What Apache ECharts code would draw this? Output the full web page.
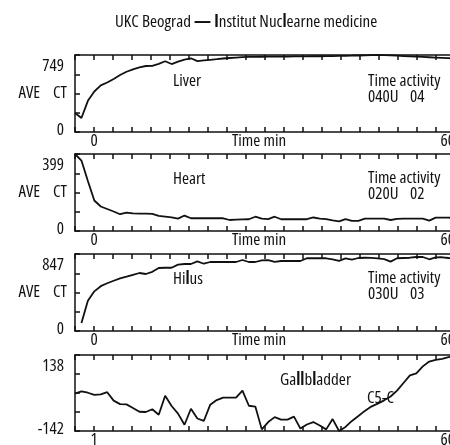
<!DOCTYPE html>
<html>
<head>
<meta charset="utf-8">
<script src="https://cdn.jsdelivr.net/npm/echarts@6/dist/echarts.min.js"></script>
<style>
  html, body { margin: 0; padding: 0; background: #fff; }
  #container { width: 450px; height: 445px; }
</style>
</head>
<body>
<div id="container"></div>
<script>
var dom = document.getElementById("container");
var myChart = echarts.init(dom, null, { renderer: "canvas" });

// condensed grotesque look: Open Sans with font-stretch condensed
var FONT = "'Open Sans', 'DejaVu Sans Condensed', sans-serif";
var W_NORMAL = "500 condensed";
var W_BOLD = "bold condensed";
var FS = 17;
var INK = "#111";

// frame numbers (one point per frame)
var frames = [1, 2, 3, 4, 5, 6, 7, 8, 9, 10, 11, 12, 13, 14, 15, 16, 17, 18, 19, 20,
  21, 22, 23, 24, 25, 26, 27, 28, 29, 30, 31, 32, 33, 34, 35, 36, 37, 38, 39, 40,
  41, 42, 43, 44, 45, 46, 47, 48, 49, 50, 51, 52, 53, 54, 55, 56, 57, 58, 59, 60];

// counts
var liver = [185, 136, 303, 394, 453, 481, 516, 554, 586, 609,
  628, 642, 643, 663, 688, 661, 685, 704, 717, 690,
  696, 702, 708, 715, 720, 724, 728, 730, 731, 732,
  733, 733, 734, 734, 735, 735, 736, 737, 737, 738,
  739, 740, 741, 742, 744, 746, 748, 749, 747, 745,
  742, 739, 736, 733, 730, 727, 724, 721, 718, 715];
var heart = [399, 365, 259, 158, 127, 114, 101, 87, 95, 91,
  90, 90, 89, 78, 75, 71, 64, 80, 66, 66,
  66, 66, 66, 66, 57, 59, 60, 61, 74, 64,
  62, 74, 61, 61, 61, 61, 61, 70, 64, 62,
  55, 50, 62, 52, 52, 64, 64, 64, 64, 57,
  63, 64, 64, 64, 64, 54, 69, 69, 69, 67];
var hilus = [null, 88, 332, 436, 493, 525, 553, 579, 598, 618,
  638, 627, 651, 693, 696, 696, 730, 737, 737, 765,
  740, 759, 759, 759, 759, 759, 781, 759, 759, 777,
  780, 761, 770, 770, 770, 770, 800, 800, 800, 800,
  788, 772, 798, 785, 803, 806, 805, 798, 790, 763,
  800, 803, 806, 814, 814, 789, 809, 811, 803, 798];
var gallbladder = [-4, 4, -1, -9, -7, 1, -30, -43, -44, -57,
  -71, -72, -62, -82, -12, -50, -78, -119, -60, -96,
  -105, -45, -28, -19, -19, -19, 7, -49, -52, -136,
  -109, -91, -100, -100, -89, -133, -118, -109, -122, -136,
  -98, -142, -127, -105, -87, -68, -52, -41, -29, -15,
  7, 35, 63, 70, 96, 114, 120, 124, 130, 138];

var curves = [liver, heart, hilus, gallbladder];
var yMin = [0, 0, 0, -142];
var yMax = [749, 399, 847, 138];
var yTopLabels = ["749", "399", "847", "138"];
var yBottomLabels = ["0", "0", "0", "-142"];
var xStartLabels = ["0", "0", "0", "1"];
var xEndLabel = "60";
var roiCodes = [["040U", "04"], ["020U", "02"], ["030U", "03"]];

// panel layout
var panelTop = [55, 154, 254, 355];
var panelHeight = [77, 77, 77, 76];

var txtBase = { color: INK, fontFamily: FONT, fontSize: FS, fontWeight: W_NORMAL };

var grids = [];
var xAxes = [];
var yAxes = [];
var series = [];
var lineSty = { color: INK, width: 1.5 };

for (var i = 0; i < 4; i++) {
  grids.push({
    left: 75, top: panelTop[i], width: 380, height: panelHeight[i],
    outerBoundsMode: "none", containLabel: false
  });

  // data axis (hidden)
  xAxes.push({
    gridIndex: i, type: "category", data: frames, boundaryGap: false, show: false
  });
  // bottom ticks + labels
  (function (idx) {
    xAxes.push({
      gridIndex: idx, type: "value", position: "bottom",
      min: -1, max: 19, interval: 1,
      axisLine: { show: true, onZero: false, lineStyle: lineSty },
      axisTick: { show: true, inside: true, length: 5, lineStyle: lineSty },
      splitLine: { show: false },
      axisLabel: Object.assign({
        margin: 1,
        showMinLabel: true, showMaxLabel: true, alignMaxLabel: "right",
        formatter: function (v) {
          if (v === 0) return xStartLabels[idx];
          if (v === 19) return xEndLabel;
          return "";
        }
      }, txtBase),
      name: idx < 3 ? "Time min" : "",
      nameLocation: "middle", nameGap: 1, nameMoveOverlap: false,
      nameTextStyle: Object.assign({ verticalAlign: "top", padding: [0, 12, 0, 0] }, txtBase)
    });
  })(i);
  // top ticks
  xAxes.push({
    gridIndex: i, type: "value", position: "top",
    min: -1, max: 19, interval: 1,
    axisLine: { show: true, onZero: false, lineStyle: lineSty },
    axisTick: { show: true, inside: true, length: 5, lineStyle: lineSty },
    splitLine: { show: false },
    axisLabel: { show: false }
  });

  // data axis (hidden)
  yAxes.push({
    gridIndex: i, type: "value", min: yMin[i], max: yMax[i], show: false
  });
  (function (idx) {
    yAxes.push({
      gridIndex: idx, type: "value", position: "left",
      min: 0, max: 4, interval: 1,
      axisLine: { show: true, onZero: false, lineStyle: lineSty },
      axisTick: { show: true, inside: true, length: 5, lineStyle: lineSty },
      splitLine: { show: false },
      axisLabel: Object.assign({
        margin: 11,
        showMinLabel: true, showMaxLabel: true,
        formatter: function (v) {
          if (v === 4) return "{hi|" + yTopLabels[idx] + "}";
          if (v === 0) return "{lo|" + yBottomLabels[idx] + "}";
          return "";
        },
        rich: {
          hi: Object.assign({ padding: [22, 0, 0, 0] }, txtBase),
          lo: Object.assign({ padding: [0, 0, 4, 0] }, txtBase)
        }
      }, txtBase),
      name: idx < 3 ? "{a|AVE}{b|CT}" : "",
      nameLocation: "middle", nameRotate: 0, nameGap: 8, nameMoveOverlap: false,
      nameTextStyle: Object.assign({
        rich: {
          a: Object.assign({ padding: [0, 13, 0, 0] }, txtBase),
          b: Object.assign({}, txtBase)
        }
      }, txtBase)
    });
  })(i);
  yAxes.push({
    gridIndex: i, type: "value", position: "right",
    min: 0, max: 4, interval: 1,
    axisLine: { show: true, onZero: false, lineStyle: lineSty },
    axisTick: { show: true, inside: true, length: 5, lineStyle: lineSty },
    splitLine: { show: false },
    axisLabel: { show: false }
  });

  series.push({
    type: "line",
    xAxisIndex: i * 3,
    yAxisIndex: i * 3,
    data: curves[i],
    symbol: "none",
    connectNulls: false,
    silent: true,
    lineStyle: { color: INK, width: 1.8 }
  });
}

var richFont = {
  n: { fontFamily: FONT, fontSize: FS, fontWeight: W_NORMAL, fill: INK },
  b: { fontFamily: FONT, fontSize: FS, fontWeight: W_BOLD, fill: INK }
};

function label(x, y, text) {
  return {
    type: "text", x: x, y: y, silent: true,
    style: {
      text: text, fill: INK, fontFamily: FONT, fontSize: FS, fontWeight: W_NORMAL,
      verticalAlign: "middle", rich: richFont
    }
  };
}

var graphics = [
  label(115, 22, "{n|UKC Beograd }{b|—}{n| }{b|I}{n|nstitut Nuc}{b|l}{n|earne medicine}"),
  label(173, 81.5, "Liver"),
  label(173, 179.5, "Heart"),
  label(173, 279, "{n|Hi}{b|l}{n|us}"),
  label(280, 380, "{n|Ga}{b|ll}{n|b}{b|l}{n|adder}"),
  label(367, 398, "C5-C")
];
var activityY = [81, 178.5, 278];
for (var k = 0; k < 3; k++) {
  graphics.push(label(368, activityY[k], "Time activity"));
  graphics.push(label(368, activityY[k] + 16, roiCodes[k][0]));
  graphics.push(label(410, activityY[k] + 16, roiCodes[k][1]));
}

var option = {
  animation: false,
  backgroundColor: "#fff",
  grid: grids,
  xAxis: xAxes,
  yAxis: yAxes,
  series: series,
  graphic: graphics
};

myChart.setOption(option);
</script>
</body>
</html>
